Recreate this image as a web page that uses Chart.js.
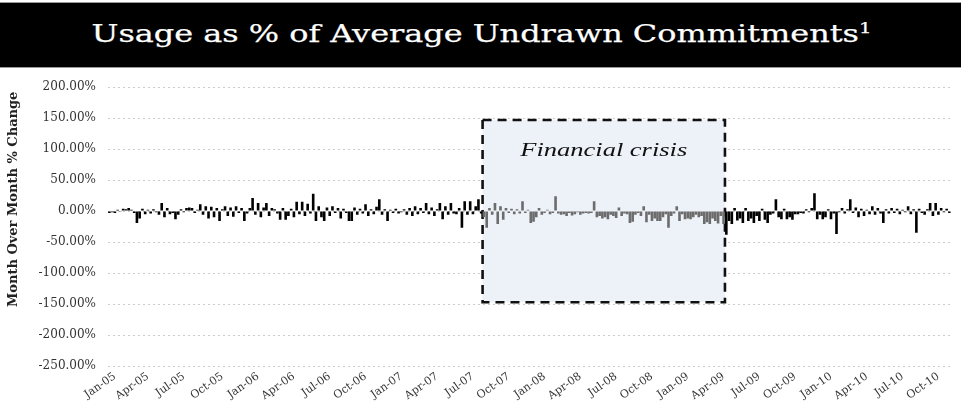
<!DOCTYPE html>
<html><head><meta charset="utf-8">
<script src="https://cdn.jsdelivr.net/npm/chart.js@4.4.1/dist/chart.umd.min.js"></script>
<style>
html,body{margin:0;padding:0;background:#fff;width:961px;height:404px;overflow:hidden;}
#title{position:absolute;left:0;top:2px;width:961px;height:64px;background:#000;border-top:1px solid #9a9a9a;border-bottom:1px solid #9a9a9a;overflow:hidden;}
#tt{position:absolute;left:0;top:16px;font-family:"DejaVu Serif",serif;font-size:25px;line-height:30px;color:#fff;white-space:nowrap;display:inline-block;transform-origin:0 0;-webkit-text-stroke:0.25px #fff;}
#tt sup{font-size:0.62em;line-height:0;}
#wrap{position:absolute;left:0;top:68px;width:961px;height:336px;}
</style></head><body>
<div id="title"><span id="tt">Usage as % of Average Undrawn Commitments<sup>1</sup></span></div>
<div id="wrap"><canvas id="c"></canvas></div>
<script>
// ---- data ----
const firstWeek = '2004-12-24';            // week ending date of first bar
const usage = [
 -3, -2, -3, 2, -1, 4, 3, 5, 2, -3,
 -19, -12, 4, -5, 2, -4, 3, -2, -6, 13,
 -10, 5, -5, -3, -13, -6, 3, -2, 5, 6,
 5, -3, 2, 11, -6, 8, -12, 7, -10, 5,
 -16, 3, 8, -8, 6, -9, 8, -3, 5, -16,
 -4, 5, 21, -6, 13, -10, 6, 13, -8, 5,
 3, -4, -14, 5, -14, -8, 4, -10, 15, -5,
 15, -8, 12, -4, 28, -16, 8, -10, -16, 6,
 -8, 8, -3, 5, -12, 4, -3, -16, -16, 6,
 -6, 4, -4, 11, -8, 3, -5, 7, 19, -6,
 3, -16, 2, -3, 4, -4, -2, 3, -6, 5,
 -8, 8, -5, 5, -3, 13, -5, 6, -8, 3,
 13, -13, 8, -6, 13, -4, -5, 5, -27, 16,
 -6, 16, -5, 8, 19, -4, -10, -27, 5, -6,
 13, -21, 8, -14, 5, -3, 4, -5, 3, -4,
 16, -3, 2, -19, -17, -10, 5, -6, -3, 2,
 -5, -3, 24, -4, -6, -5, -8, -3, -7, -5,
 -2, -6, -4, -3, -4, -3, 16, -10, -8, -12,
 -10, -13, -6, -8, -11, 6, -8, -4, -5, -19,
 -17, -6, -3, -8, 8, -18, -6, -16, -12, -16,
 -16, -10, -5, -27, -8, -4, 8, -16, -5, -13,
 -12, -13, -10, -6, -10, -8, -21, -18, -21, -12,
 -16, -20, -8, -21, -38, -16, -21, 5, -15, -12,
 -19, 5, -16, -12, -19, -8, -16, 4, -14, -19,
 -6, -4, 19, -10, -13, 4, -13, -10, -14, -5,
 -5, -3, -4, 3, -2, 5, 29, -13, -6, -13,
 -10, 3, -13, -4, -37, -2, 5, -4, 3, 19,
 -3, 6, -10, 4, -8, 2, -5, 8, -6, 5,
 -4, -19, 3, -4, 5, -3, 4, -5, 2, -2,
 8, -5, 3, -35, 4, -3, -6, 3, 13, -8,
 13, -6, 5, -2, 4, -3
];
const tickLabels = ['Jan-05','Apr-05','Jul-05','Oct-05','Jan-06','Apr-06','Jul-06','Oct-06',
 'Jan-07','Apr-07','Jul-07','Oct-07','Jan-08','Apr-08','Jul-08','Oct-08',
 'Jan-09','Apr-09','Jul-09','Oct-09','Jan-10','Apr-10','Jul-10','Oct-10'];
const yTicks = [-250, -200, -150, -100, -50, 0, 50, 100, 150, 200];
const crisisWeeks = ['2007-07-27', '2009-04-03'];
const crisisRange = [147, -147];
const crisisText = 'Financial crisis';
const crisisTextValue = 96;
const yTitle = 'Month Over Month % Change';
const yTitleCenterValue = 19;

// ---- derived ----
const DAY = 864e5;
const t0 = Date.parse(firstWeek + 'T00:00:00Z');
const weeks = usage.map((_, i) => new Date(t0 + i * 7 * DAY).toISOString().slice(0, 10));
const monIdx = {Jan:1, Apr:4, Jul:7, Oct:10};
const tickAt = {};
tickLabels.forEach(l => {
  const [m, y] = l.split('-');
  const key = '20' + y + '-' + String(monIdx[m]).padStart(2, '0');
  const i = weeks.findIndex(w => w.slice(0, 7) === key);
  if (i >= 0) tickAt[i] = l;
});
const cs = weeks.indexOf(crisisWeeks[0]);
const ce = weeks.indexOf(crisisWeeks[1]);
const barColors = usage.map((v, i) => (i > cs && i <= ce) ? '#6c6c6c' : '#000000');

// title: stretch to the reference width, centred
const tt = document.getElementById('tt');
const w = tt.getBoundingClientRect().width;
const sx = 780 / w;
tt.style.transform = 'translateX(' + ((961 - 780) / 2 + 1) + 'px) scaleX(' + sx + ')';

const crisisPlugin = {
  id: 'crisis',
  beforeDatasetsDraw(chart) {
    const {ctx, scales: {x, y}} = chart;
    const half = (x.getPixelForValue(1) - x.getPixelForValue(0)) / 2;
    const x0 = x.getPixelForValue(cs) + half;
    const x1 = x.getPixelForValue(ce) + half;
    const y0 = y.getPixelForValue(crisisRange[0]);
    const y1 = y.getPixelForValue(crisisRange[1]);
    ctx.save();
    ctx.fillStyle = '#edf1f8';
    ctx.fillRect(x0, y0, x1 - x0, y1 - y0);
    ctx.setLineDash([9, 6]);
    ctx.lineWidth = 2.6;
    ctx.strokeStyle = '#111';
    ctx.strokeRect(x0, y0, x1 - x0, y1 - y0);
    ctx.setLineDash([]);
    ctx.font = 'italic 18px "Liberation Serif"';
    ctx.fillStyle = '#111';
    ctx.textAlign = 'center';
    ctx.textBaseline = 'middle';
    const tw = ctx.measureText(crisisText).width;
    ctx.translate((x0 + x1) / 2, y.getPixelForValue(crisisTextValue));
    ctx.scale(167 / tw, 1);
    ctx.fillText(crisisText, 0, 0);
    ctx.restore();
  },
  afterDraw(chart) {
    const {ctx, scales: {y}} = chart;
    ctx.save();
    ctx.font = 'bold 13px "DejaVu Serif"';
    ctx.fillStyle = '#222';
    ctx.textAlign = 'center';
    ctx.textBaseline = 'middle';
    ctx.translate(14, y.getPixelForValue(yTitleCenterValue));
    ctx.rotate(-Math.PI / 2);
    ctx.fillText(yTitle, 0, 0);
    ctx.restore();
  }
};

new Chart(document.getElementById('c'), {
  type: 'bar',
  data: {
    labels: weeks,
    datasets: [{ data: usage, backgroundColor: barColors, barPercentage: 0.95, categoryPercentage: 1.0 }]
  },
  options: {
    responsive: true, maintainAspectRatio: false, animation: false,
    layout: { padding: { top: 17, right: 4, left: 0, bottom: 0 } },
    plugins: { legend: { display: false }, tooltip: { enabled: false } },
    scales: {
      x: {
        grid: { display: false, drawTicks: false },
        border: { display: false },
        ticks: {
          autoSkip: false, maxRotation: 35, minRotation: 35, padding: 4,
          font: { family: 'DejaVu Serif', size: 11 }, color: '#333',
          callback: (v, i) => tickAt[i] || ''
        },
        afterFit: s => { s.height = 38; }
      },
      y: {
        min: yTicks[0], max: yTicks[yTicks.length - 1],
        afterBuildTicks: s => { s.ticks = yTicks.map(v => ({ value: v })); },
        ticks: {
          callback: v => v.toFixed(2) + '%', padding: 12,
          font: { family: 'DejaVu Serif', size: 12 }, color: '#333'
        },
        grid: { color: '#cccccc', lineWidth: 1, drawTicks: false },
        border: { display: false, dash: [2, 3] },
        title: { display: false },
        afterFit: s => { s.width = 108; }
      }
    }
  },
  plugins: [crisisPlugin]
});
</script>
</body></html>
